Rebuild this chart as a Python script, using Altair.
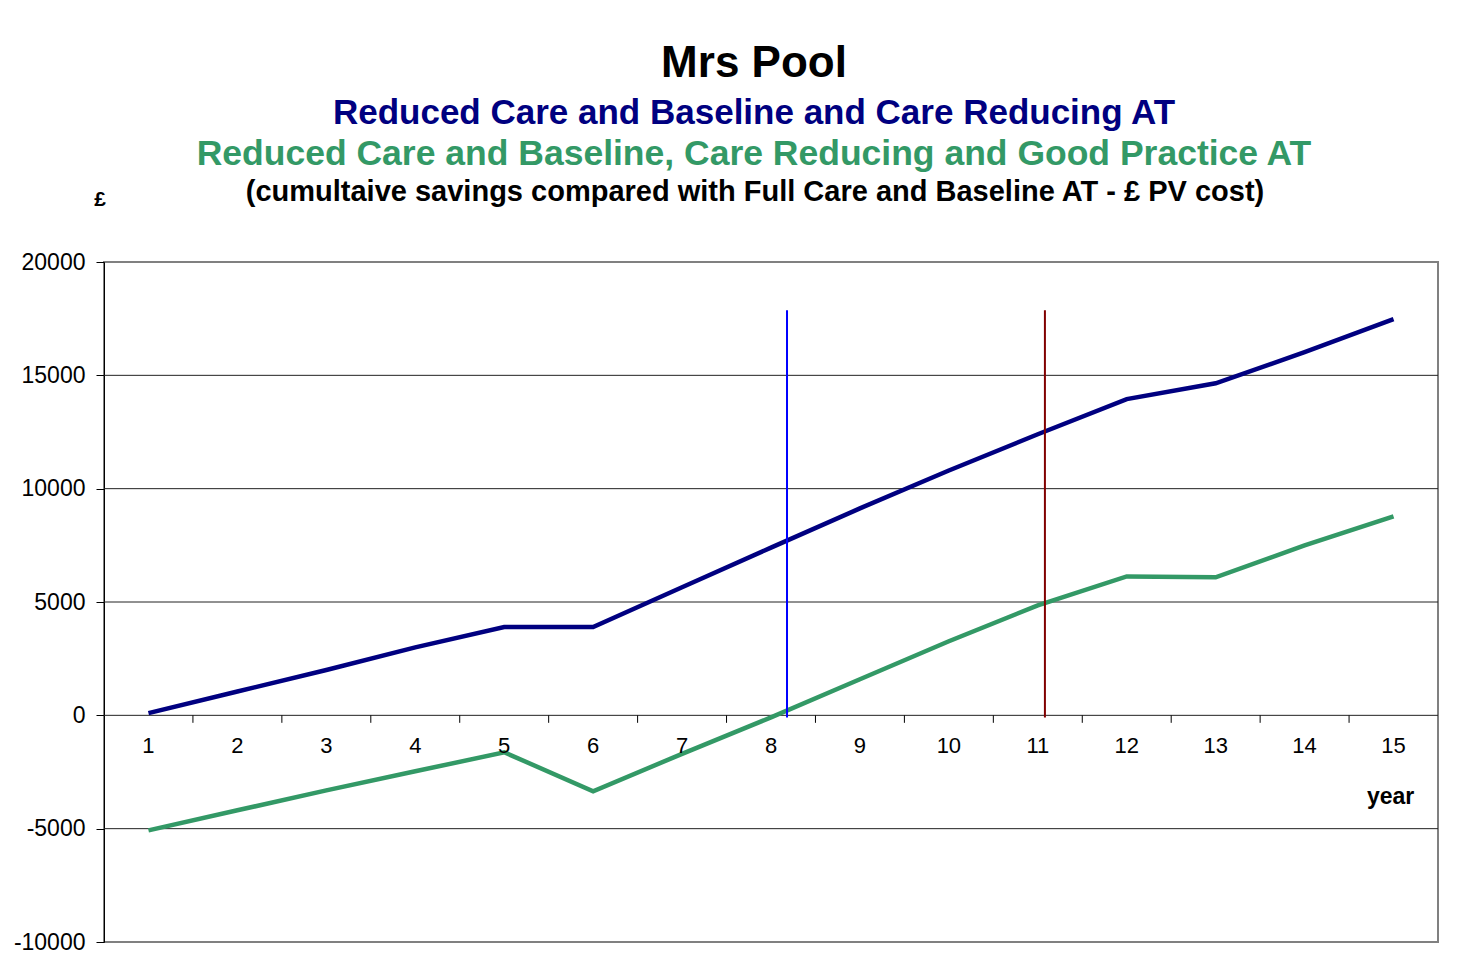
import altair as alt
import pandas as pd

years = list(range(1, 16))
care_reducing = [100, 1050, 2000, 3000, 3900, 3900, 5650, 7400, 9130, 10800, 12400, 13950, 14650, 16020, 17480]
good_practice = [-5075, -4190, -3310, -2470, -1630, -3350, -1700, -90, 1590, 3270, 4850, 6130, 6090, 7500, 8780]
series_names = ["Reduced Care and Baseline and Care Reducing AT",
                "Reduced Care and Baseline, Care Reducing and Good Practice AT"]
series_colors = ["#000080", "#339966"]
marker_years = [8.18, 11.08]
marker_colors = ["#0000FF", "#800000"]
marker_top = 17870
tick_positions = [x + 0.5 for x in range(1, 15)]
y_ticks = [-10000, -5000, 0, 5000, 10000, 15000, 20000]
grid_values = [-5000, 0, 5000, 10000, 15000]
main_title = "Mrs Pool"
note = "(cumultaive savings compared with Full Care and Baseline AT - £ PV cost)"
y_unit = "£"
x_title = "year"

W, H = 1334, 680

rows = []
for name, vals in zip(series_names, [care_reducing, good_practice]):
    for yr, v in zip(years, vals):
        rows.append({"year": yr, "value": v, "series": name})
df = pd.DataFrame(rows)

xs = alt.Scale(domain=[0.5, 15.5], nice=False, zero=False)
ys = alt.Scale(domain=[-10000, 20000], nice=False)

gdf = pd.DataFrame({"value": grid_values})
grid = alt.Chart(gdf).mark_rule(color="#222222", strokeWidth=1).encode(
    y=alt.Y("value:Q", scale=ys, axis=alt.Axis(
        values=y_ticks, title=None, grid=False,
        domainColor="#000000", tickColor="#000000", tickSize=8,
        labelExpr="datum.value + ''",
        labelFont="Liberation Sans", labelFontSize=23, labelColor="#000000",
        labelPadding=11)))

lines = alt.Chart(df).mark_line(strokeWidth=4.5).encode(
    x=alt.X("year:Q", scale=xs, axis=None),
    y=alt.Y("value:Q"),
    color=alt.Color("series:N", scale=alt.Scale(domain=series_names, range=series_colors), legend=None),
)

marker_layers = []
for mx, mc in zip(marker_years, marker_colors):
    mk = pd.DataFrame({"year": [mx], "value": [-100], "value2": [marker_top]})
    marker_layers.append(alt.Chart(mk).mark_rule(strokeWidth=2, color=mc).encode(
        x="year:Q",
        y="value:Q",
        y2="value2:Q",
    ))

tk = pd.DataFrame({"year": tick_positions, "value": [0] * len(tick_positions),
                   "value2": [-330] * len(tick_positions)})
ticks = alt.Chart(tk).mark_rule(color="#000000", strokeWidth=1).encode(
    x="year:Q", y="value:Q", y2="value2:Q")

lab = pd.DataFrame({"year": years, "value": [0] * len(years), "t": [str(y) for y in years]})
labels = alt.Chart(lab).mark_text(dy=31, font="Liberation Sans", fontSize=22, color="#000000", baseline="middle").encode(
    x="year:Q", y="value:Q", text="t:N")

yrdf = pd.DataFrame({"year": [15], "value": [0], "t": [x_title]})
year_lab = alt.Chart(yrdf).mark_text(dy=82, dx=-3, font="Liberation Sans", fontSize=23, fontWeight="bold",
                                     color="#000000", baseline="middle").encode(
    x="year:Q", y="value:Q", text="t:N")

title_specs = [
    (main_title, 650, -198, 44, "#000000"),
    (series_names[0], 650, -149, 35, "#000080"),
    (series_names[1], 650, -108, 35.5, "#339966"),
    (note, 651, -70, 29, "#000000"),
    (y_unit, -4, -62, 21, "#000000"),
]
title_layers = []
for t, px, py, sz, c in title_specs:
    title_layers.append(
        alt.Chart(pd.DataFrame({"t": [t]})).mark_text(
            font="Liberation Sans", fontWeight="bold", baseline="middle", align="center",
            fontSize=sz, color=c).encode(x=alt.value(px), y=alt.value(py), text="t:N"))

chart = alt.layer(grid, lines, *marker_layers, ticks, labels, year_lab, *title_layers).properties(
    width=W, height=H,
    padding={"left": 96, "top": 254, "right": 30, "bottom": 20},
    autosize=alt.AutoSizeParams(type="none"),
    background="#ffffff",
).configure_view(stroke="#808080", strokeWidth=2)

chart.save("out.html", embed_options={"renderer": "svg", "actions": False})
